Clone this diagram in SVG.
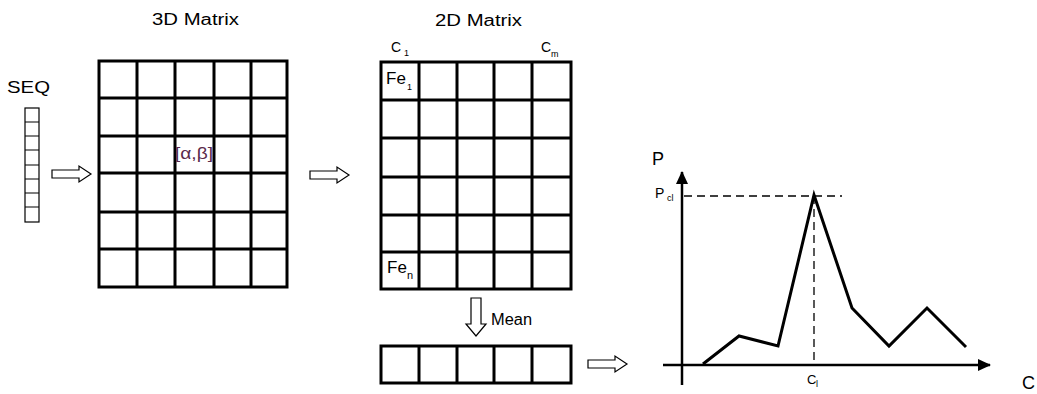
<svg xmlns="http://www.w3.org/2000/svg" width="1037" height="394" viewBox="0 0 1037 394">
<style>
text{font-family:"Liberation Sans",Arial,sans-serif;fill:#000}
.grid{fill:none;stroke:#000;stroke-width:3}
.thin{fill:#fff;stroke:#000;stroke-width:1.2}
.hollow{fill:#fff;stroke:#000;stroke-width:1.2;stroke-linejoin:miter}
.curve{fill:none;stroke:#000;stroke-width:3;stroke-linejoin:miter}
.axis{fill:none;stroke:#000;stroke-width:2.5}
.dash{fill:none;stroke:#000;stroke-width:1.3;stroke-dasharray:8,5}
.sub{font-size:9px}
</style>
<defs>
<marker id="ah" viewBox="0 0 13 12" refX="12" refY="6" markerWidth="13" markerHeight="12" markerUnits="userSpaceOnUse" orient="auto">
<path d="M0,0 L13,6 L0,12 Z" fill="#000"/>
</marker>
</defs>
<rect width="1037" height="394" fill="#fff"/>

<g id="seq">
<text x="7" y="93" font-size="17" textLength="43" lengthAdjust="spacingAndGlyphs">SEQ</text>
<rect class="thin" x="25" y="108" width="14" height="114"/>
<path d="M25,122H39M25,136H39M25,150H39M25,165H39M25,179H39M25,193H39M25,207H39" stroke="#000" stroke-width="1.2"/>
</g>

<g id="matrix3d">
<text x="152" y="25" font-size="16" textLength="87" lengthAdjust="spacingAndGlyphs">3D Matrix</text>
<rect class="grid" x="99" y="61" width="188" height="226" stroke-width="3.5"/>
<path class="grid" d="M137,61V287M175,61V287M214,61V287M251,61V287M99,98H287M99,212H287M99,249H287"/>
<path class="grid" d="M99,136H287M99,173H287" stroke-width="4"/>
<text x="175" y="159" font-size="16" textLength="38" lengthAdjust="spacingAndGlyphs" style="fill:#5a2a4a">[α,β]</text>
</g>

<g id="matrix2d">
<text x="435" y="26" font-size="16" textLength="87" lengthAdjust="spacingAndGlyphs">2D Matrix</text>
<text x="391" y="52" font-size="14">C</text>
<text x="404" y="56" class="sub">1</text>
<text x="541" y="52" font-size="14">C</text>
<text x="551" y="57" class="sub" font-size="10">m</text>
<rect class="grid" x="381" y="62" width="190" height="227"/>
<path class="grid" d="M419,62V289M457,62V289M494,62V289M532,62V289M381,100H571M381,177H571M381,215H571M381,252H571"/>
<path class="grid" d="M381,138H571" stroke-width="4"/>
<text x="386" y="84" font-size="17">Fe</text>
<text x="407" y="90" class="sub">1</text>
<text x="387" y="273" font-size="17">Fe</text>
<text x="407" y="279" font-size="11">n</text>
</g>

<g id="meanrow">
<rect class="grid" x="381" y="346" width="190" height="37"/>
<path class="grid" d="M419,346V383M457,346V383M494,346V383M532,346V383"/>
</g>

<g id="graph">
<path class="axis" d="M682,385V172" marker-end="url(#ah)"/>
<path class="axis" d="M663,365H990" marker-end="url(#ah)"/>
<text x="652" y="165" font-size="18">P</text>
<text x="655" y="198" font-size="14">P</text>
<text x="667" y="201" class="sub">cl</text>
<text x="807" y="384" font-size="13">C</text>
<text x="816" y="387" class="sub">l</text>
<text x="1022" y="389" font-size="18">C</text>
<path class="dash" d="M684,196H842M814,196V365"/>
<polyline class="curve" points="703,364 739,336 778,346 814,195 852,308 889,346 927,308 966,347"/>
</g>

<g id="connectors">
<polygon class="hollow" points="52,170 79,170 79,166 91,174 79,182 79,178 52,178"/>
<polygon class="hollow" points="310,171 337,171 337,167 349,175 337,183 337,179 310,179"/>
<polygon class="hollow" points="471,298 481,298 481,324 486,324 476,336 466,324 471,324"/>
<text x="491" y="325" font-size="16" textLength="41" lengthAdjust="spacingAndGlyphs">Mean</text>
<polygon class="hollow" points="588,360 615,360 615,356 627,364 615,372 615,368 588,368"/>
</g>
</svg>
